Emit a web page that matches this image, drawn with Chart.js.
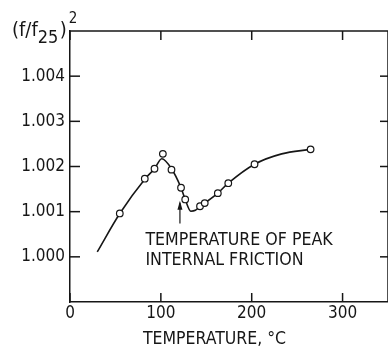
<!DOCTYPE html>
<html>
<head>
<meta charset="utf-8">
<script src="https://cdn.jsdelivr.net/npm/chart.js@4"></script>
<style>
html,body{margin:0;padding:0;background:#fff;overflow:hidden;}
#wrap{width:388px;height:347px;position:relative;}
</style>
</head>
<body>
<div id="wrap"><canvas id="c"></canvas></div>
<script>
// Measured points (temperature °C, (f/f25)^2)
const pointTemps  = [54.8, 82.3, 93.0, 102.2, 111.7, 122.2, 126.8, 143.1, 148.3, 162.7, 174.2, 203.1, 264.8];
const pointValues = [1.00096, 1.00173, 1.00195, 1.00228, 1.00193, 1.00153, 1.00127, 1.00112, 1.00119, 1.00141, 1.00163, 1.00205, 1.00238];
// Smooth curve drawn through the data
const curveTemps  = [30, 54.8, 82.3, 93.0, 101, 111.7, 122.2, 126.8, 133, 138, 143.1, 148.3, 162.7, 174.2, 203.1, 233, 264.8];
const curveValues = [1.00011, 1.00096, 1.00172, 1.00195, 1.00217, 1.00195, 1.00153, 1.00127, 1.00101, 1.00103, 1.00112, 1.00119, 1.00141, 1.00163, 1.00205, 1.00228, 1.00238];
// Tick labels
const xTickValues = [0, 100, 200, 300];
const yTickValues = [1.000, 1.001, 1.002, 1.003, 1.004];
const xTitle = 'TEMPERATURE, °C';
const noteLines = ['TEMPERATURE OF PEAK', 'INTERNAL FRICTION'];
const arrowTemp = 121;

const FONT = "'DejaVu Sans Condensed', 'Liberation Sans Narrow', 'DejaVu Sans', sans-serif";
const INK = '#161616';

const decor = {
  id: 'decor',
  afterDraw(chart) {
    const {ctx, chartArea: a, scales: {x, y}} = chart;
    ctx.save();
    ctx.strokeStyle = INK;
    ctx.lineWidth = 1.5;
    const line = (x1, y1, x2, y2) => { ctx.beginPath(); ctx.moveTo(x1, y1); ctx.lineTo(x2, y2); ctx.stroke(); };
    // frame top & right
    line(a.left, a.top, a.right, a.top);
    line(a.right, a.top, a.right, a.bottom);
    // inward ticks
    x.ticks.forEach(t => {
      const px = x.getPixelForValue(t.value);
      line(px, a.bottom, px, a.bottom - 9);
      line(px, a.top, px, a.top + 9);
    });
    y.ticks.forEach(t => {
      const py = y.getPixelForValue(t.value);
      line(a.left, py, a.left + 10, py);
      line(a.right, py, a.right - 8, py);
    });
    ctx.fillStyle = INK;
    // x-axis title
    ctx.font = "17.5px " + FONT;
    ctx.textAlign = 'center';
    ctx.textBaseline = 'middle';
    ctx.fillText(xTitle, x.getPixelForValue(159), a.bottom + 37);
    // annotation
    ctx.font = "17.6px " + FONT;
    ctx.textAlign = 'left';
    const tx = x.getPixelForValue(83);
    ctx.fillText(noteLines[0], tx, y.getPixelForValue(1.00037));
    ctx.fillText(noteLines[1], tx, y.getPixelForValue(0.99993));
    // arrow
    const ax = x.getPixelForValue(arrowTemp);
    const ay1 = y.getPixelForValue(1.00074), ay2 = y.getPixelForValue(1.00124);
    ctx.lineWidth = 1.2;
    line(ax, ay1, ax, ay2 + 2);
    ctx.beginPath();
    ctx.moveTo(ax, ay2); ctx.lineTo(ax - 2.5, ay2 + 9); ctx.lineTo(ax + 2.5, ay2 + 9); ctx.closePath(); ctx.fill();
    // y-axis title (f/f25)^2
    ctx.textBaseline = 'alphabetic';
    ctx.font = "20px " + FONT;
    let cx = 12;
    ctx.fillText('(f/f', cx, 36); cx += ctx.measureText('(f/f').width;
    ctx.font = "18px " + FONT;
    ctx.fillText('25', cx, 43); cx += ctx.measureText('25').width + 1.5;
    ctx.font = "20px " + FONT;
    ctx.fillText(')', cx, 36); cx += ctx.measureText(')').width;
    ctx.font = "15px " + FONT;
    ctx.fillText('2', cx + 2, 23);
    ctx.restore();
  }
};

new Chart(document.getElementById('c'), {
  type: 'scatter',
  data: {
    datasets: [
      {
        type: 'line',
        data: curveTemps.map((t, i) => ({x: t, y: curveValues[i]})),
        borderColor: INK,
        borderWidth: 1.6,
        pointRadius: 0,
        fill: false,
        cubicInterpolationMode: 'monotone',
        order: 2
      },
      {
        data: pointTemps.map((t, i) => ({x: t, y: pointValues[i]})),
        pointRadius: 3.3,
        pointBorderWidth: 1.2,
        pointBorderColor: INK,
        pointBackgroundColor: '#fff',
        order: 1
      }
    ]
  },
  options: {
    responsive: true,
    maintainAspectRatio: false,
    animation: false,
    layout: {autoPadding: false, padding: {top: 31, right: 0, left: 0, bottom: 0}},
    plugins: {legend: {display: false}, tooltip: {enabled: false}},
    scales: {
      x: {
        type: 'linear', min: 0, max: 350,
        afterBuildTicks: s => { s.ticks = xTickValues.map(v => ({value: v})); },
        afterFit: s => { s.height = 45; s.paddingLeft = 0; s.paddingRight = 0; },
        grid: {display: false, drawTicks: false},
        border: {display: true, color: INK, width: 1.5},
        ticks: {color: INK, padding: 1, font: {family: FONT, size: 17}, callback: v => String(v)}
      },
      y: {
        type: 'linear', min: 0.999, max: 1.005,
        afterBuildTicks: s => { s.ticks = yTickValues.map(v => ({value: v})); },
        afterFit: s => { s.width = 70; s.paddingTop = 0; s.paddingBottom = 0; },
        grid: {display: false, drawTicks: false},
        border: {display: true, color: INK, width: 1.5},
        ticks: {color: INK, padding: 5, font: {family: FONT, size: 17}, callback: v => Number(v).toFixed(3)}
      }
    }
  },
  plugins: [decor]
});
</script>
</body>
</html>
